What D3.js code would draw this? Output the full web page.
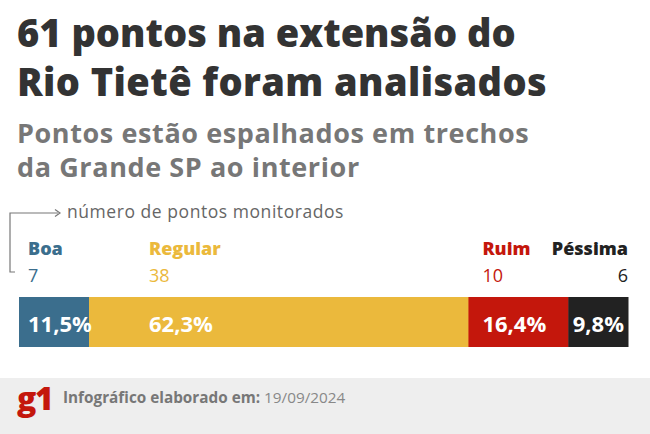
<!DOCTYPE html>
<html><head><meta charset="utf-8">
<script src="https://cdn.jsdelivr.net/npm/d3@7"></script>
<style>body{margin:0;background:#fff}svg{display:block}text{font-family:"Open Sans",sans-serif}</style>
</head><body><svg id="c" width="650" height="434"></svg>
<script>
const categories = ["Boa","Regular","Ruim","Péssima"];
const counts = [7,38,10,6];
const percents = [11.5,62.3,16.4,9.8];
const colors = ["#3b6e8d","#ebb93c","#c4170c","#222222"];
const labelColors = ["#3b6e8d","#ebb93c","#c4170c","#222222"];

const svg = d3.select("#c");
const W=650;
const bar={x0:19,x1:628,y:297,h:50};

svg.append("text").attr("x",17).attr("y",47).attr("font-size",38).attr("font-weight",800).attr("fill","#333").text("61 pontos na extensão do");
svg.append("text").attr("x",17).attr("y",96).attr("font-size",38).attr("font-weight",800).attr("fill","#333").attr("letter-spacing",0.4).text("Rio Tietê foram analisados");
svg.append("text").attr("x",17).attr("y",143).attr("font-size",27).attr("font-weight",700).attr("fill","#777").attr("letter-spacing",0.6).text("Pontos estão espalhados em trechos");
svg.append("text").attr("x",17).attr("y",177).attr("font-size",27).attr("font-weight",700).attr("fill","#777").attr("letter-spacing",0.6).text("da Grande SP ao interior");

// annotation
svg.append("text").attr("x",67).attr("y",218).attr("font-size",17.5).attr("fill","#666").attr("letter-spacing",0.55).text("número de pontos monitorados");
svg.append("path").attr("d","M15,272 H10 V213 H58").attr("fill","none").attr("stroke","#777").attr("stroke-width",1.2);
svg.append("path").attr("d","M55,209.5 L60,213 L55,216.5").attr("fill","none").attr("stroke","#777").attr("stroke-width",1.2);

const total=d3.sum(percents);
const x=d3.scaleLinear().domain([0,total]).range([bar.x0,bar.x1]);
const starts=[];let acc=0;percents.forEach(p=>{starts.push(acc);acc+=p;});
const labelOffset=[9,60,14,null];

svg.selectAll("rect.seg").data(categories).enter().append("rect")
 .attr("x",(d,i)=>x(starts[i])).attr("y",bar.y)
 .attr("width",(d,i)=>x(starts[i]+percents[i])-x(starts[i])+0.5).attr("height",bar.h)
 .attr("fill",(d,i)=>colors[i]);

categories.forEach((c,i)=>{
  const right = labelOffset[i]===null;
  const lx = right? bar.x1 : x(starts[i])+labelOffset[i];
  const anchor = right? "end":"start";
  svg.append("text").attr("x",lx).attr("y",255).attr("font-size",18).attr("font-weight",800).attr("fill",labelColors[i]).attr("text-anchor",anchor).text(c);
  svg.append("text").attr("x",lx).attr("y",282).attr("font-size",18).attr("fill",labelColors[i]).attr("text-anchor",anchor).text(counts[i]);
  const px = right? bar.x1-4 : lx;
  svg.append("text").attr("x",px).attr("y",332).attr("font-size",22).attr("font-weight",700).attr("fill","#fff").attr("text-anchor",anchor)
    .text(d3.format(".1f")(percents[i]).replace(".",",")+"%");
});

// footer
svg.append("rect").attr("x",0).attr("y",378).attr("width",W).attr("height",56).attr("fill","#eeeeee");
svg.append("text").attr("x",17).attr("y",410).attr("font-size",32).attr("font-weight",800).attr("fill","#c4170c").attr("letter-spacing",-1.5).text("g1");
const ft=svg.append("text").attr("x",63).attr("y",403).attr("font-size",15.3).attr("fill","#777");
ft.append("tspan").attr("font-weight",700).text("Infográfico elaborado em: ");
ft.append("tspan").attr("fill","#888").text("19/09/2024");
</script></body></html>
